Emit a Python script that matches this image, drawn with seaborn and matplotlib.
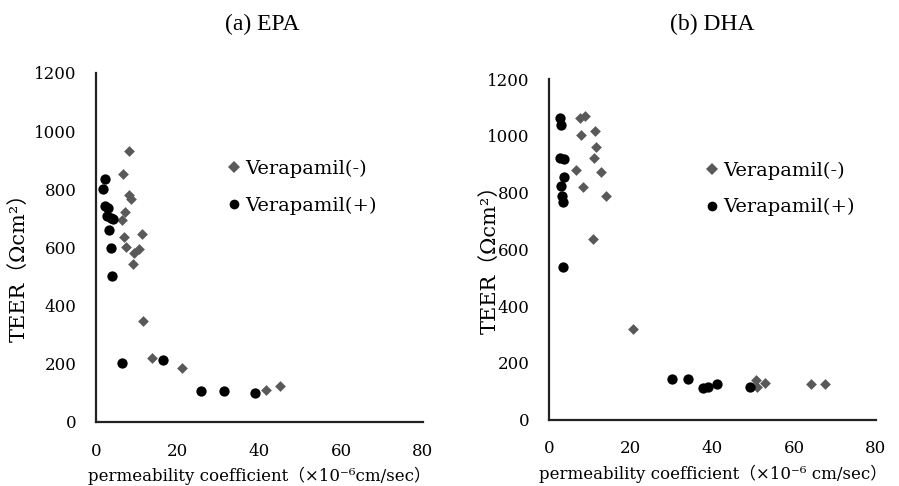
import matplotlib
matplotlib.use("Agg")
import matplotlib.pyplot as plt
import seaborn as sns
import pandas as pd
from matplotlib.lines import Line2D

# ---- data ----
epa_neg_x = [8.0, 6.6, 8.0, 8.6, 7.2, 6.4, 11.3, 6.8, 7.4, 10.5, 9.4, 9.0, 11.4, 13.7, 21.0, 41.6, 44.9]
epa_neg_y = [931, 854, 782, 768, 722, 695, 645, 636, 601, 596, 581, 542, 346, 221, 187, 109, 123]
epa_pos_x = [2.1, 1.7, 2.1, 2.9, 2.6, 3.7, 4.1, 3.1, 3.7, 3.8, 6.3, 16.3, 25.6, 31.2, 39.0]
epa_pos_y = [836, 800, 741, 737, 710, 702, 699, 661, 599, 501, 204, 212, 107, 107, 101]

dha_neg_x = [7.6, 8.8, 11.2, 7.8, 11.5, 11.0, 6.5, 12.6, 8.4, 13.9, 10.8, 20.5, 50.6, 50.8, 52.8, 64.0, 67.5]
dha_neg_y = [1062, 1071, 1018, 1001, 962, 921, 878, 872, 819, 786, 636, 319, 139, 114, 130, 124, 124]
dha_pos_x = [2.7, 2.9, 2.7, 3.7, 3.7, 2.9, 3.1, 3.5, 3.5, 30.1, 33.9, 37.7, 39.0, 41.0, 49.1]
dha_pos_y = [1062, 1039, 921, 919, 856, 824, 786, 768, 537, 143, 143, 112, 116, 125, 116]

series_labels = ["Verapamil(-)", "Verapamil(+)"]
panel_titles = ["(a) EPA", "(b) DHA"]
x_ticks = [0, 20, 40, 60, 80]
y_ticks = [0, 200, 400, 600, 800, 1000, 1200]
x_labels = ["permeability coefficient（×10⁻⁶cm/sec）",
            "permeability coefficient（×10⁻⁶ cm/sec）"]
y_label = "TEER（Ωcm²）"

sns.set_theme(style="white")
plt.rcParams["font.family"] = ["DejaVu Serif", "Noto Sans CJK JP"]

fig = plt.figure(figsize=(8.99, 4.86), dpi=100)
ax1 = fig.add_axes([0.1068, 0.1317, 0.3637, 0.7181])
ax2 = fig.add_axes([0.6107, 0.1368, 0.3637, 0.7006])

colors = {series_labels[0]: "#595959", series_labels[1]: "#000000"}
markers = {series_labels[0]: "D", series_labels[1]: "o"}
sizes = {series_labels[0]: 30, series_labels[1]: 55}


def make_df(nx, ny, px, py):
    return pd.DataFrame({
        "x": list(nx) + list(px),
        "y": list(ny) + list(py),
        "grp": [series_labels[0]] * len(nx) + [series_labels[1]] * len(px),
    })


panels = [
    (ax1, make_df(epa_neg_x, epa_neg_y, epa_pos_x, epa_pos_y), (0.398, 0.673),
     (-0.205, 0.456), 262),
    (ax2, make_df(dha_neg_x, dha_neg_y, dha_pos_x, dha_pos_y), (0.474, 0.677),
     (-0.152, 0.485), 712),
]

for i, (ax, df, legpos, ylpos, tx) in enumerate(panels):
    for g in series_labels:
        sub = df[df["grp"] == g]
        sns.scatterplot(data=sub, x="x", y="y", ax=ax, color=colors[g],
                        marker=markers[g], s=sizes[g], linewidth=0,
                        legend=False, zorder=3)
    ax.set_xlim(0, 80)
    ax.set_ylim(0, 1200)
    ax.set_xticks(x_ticks)
    ax.set_yticks(y_ticks)
    ax.tick_params(axis="both", length=0, labelsize=12, colors="black")
    ax.tick_params(axis="y", pad=14)
    ax.tick_params(axis="x", pad=15)
    for s in ["top", "right"]:
        ax.spines[s].set_visible(False)
    for s in ["left", "bottom"]:
        ax.spines[s].set_color("#222222")
        ax.spines[s].set_linewidth(1.6)
    ax.set_xlabel(x_labels[i], fontsize=12, labelpad=5, color="black")
    ax.set_ylabel(y_label, fontsize=15, color="black")
    ax.yaxis.set_label_coords(*ylpos)
    fig.text(tx / 899, 1 - 24 / 486, panel_titles[i], fontsize=17,
             family="Liberation Serif", ha="center", va="center", color="black")
    handles = [
        Line2D([], [], linestyle="none", marker="D", markersize=6,
               color=colors[series_labels[0]], markeredgewidth=0),
        Line2D([], [], linestyle="none", marker="o", markersize=7,
               color=colors[series_labels[1]], markeredgewidth=0),
    ]
    leg = ax.legend(handles, series_labels, loc="center left",
                    bbox_to_anchor=legpos, frameon=False, fontsize=14,
                    handlelength=0.8, handletextpad=0.2, borderpad=0,
                    borderaxespad=0, labelspacing=0.95)
    for t in leg.get_texts():
        t.set_color("black")

fig.savefig("out.png", dpi=100)
